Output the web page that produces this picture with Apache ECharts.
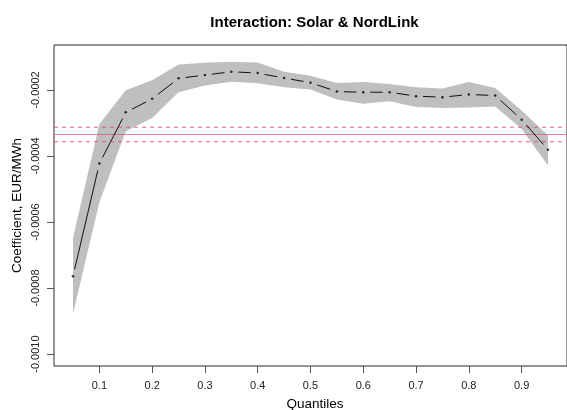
<!DOCTYPE html>
<html>
<head>
<meta charset="utf-8">
<script src="https://cdn.jsdelivr.net/npm/echarts@6/dist/echarts.min.js"></script>
<style>
  html, body { margin: 0; padding: 0; background: #fff; }
  #chart { width: 567px; height: 410px; }
</style>
</head>
<body>
<div id="chart"></div>
<script>
// Quantile-regression coefficient of the Solar x NordLink interaction
const taus = [0.05, 0.10, 0.15, 0.20, 0.25, 0.30, 0.35, 0.40, 0.45, 0.50,
              0.55, 0.60, 0.65, 0.70, 0.75, 0.80, 0.85, 0.90, 0.95];
const coef = [-0.000764, -0.000423, -0.000268, -0.000227, -0.000165, -0.000155, -0.000145,
              -0.000149, -0.000164, -0.000178, -0.000205, -0.000207, -0.000207, -0.000219,
              -0.000222, -0.000214, -0.000217, -0.000290, -0.000381];
// 90% confidence band
const upper = [-0.000648, -0.000303, -0.000201, -0.000171, -0.000123, -0.000118, -0.000115,
               -0.000117, -0.000145, -0.000157, -0.000179, -0.000176, -0.000182, -0.000192,
               -0.000196, -0.000176, -0.000194, -0.000262, -0.000338];
const lower = [-0.000878, -0.000540, -0.000325, -0.000285, -0.000207, -0.000187, -0.000175,
               -0.000180, -0.000192, -0.000199, -0.000229, -0.000242, -0.000234, -0.000252,
               -0.000255, -0.000253, -0.000250, -0.000318, -0.000429];
// OLS estimate and its interval
const olsEstimate = -0.000335;
const olsBounds = [-0.000357, -0.000313];

const xTicks = [0.1, 0.2, 0.3, 0.4, 0.5, 0.6, 0.7, 0.8, 0.9];
const yTicks = [-0.0010, -0.0008, -0.0006, -0.0004, -0.0002];

// axis limits: data range padded by 4% on each side
const xLim = [0.014, 0.986];
const yLim = [-0.001036, -0.000064];

const FONT = '"Liberation Sans", Arial, sans-serif';
const chart = echarts.init(document.getElementById('chart'), null, { renderer: 'canvas' });

const segments = [];
for (let i = 0; i < taus.length - 1; i++) {
  segments.push([taus[i], coef[i], taus[i + 1], coef[i + 1]]);
}
const pointGap = 7;
const OLS_RED = '#DF536B';

function hline(value, dashed) {
  return {
    type: 'line',
    data: [[xLim[0], value], [xLim[1], value]],
    showSymbol: false,
    silent: true,
    z: 3,
    lineStyle: { color: OLS_RED, width: 1, opacity: dashed ? 0.9 : 0.75, type: dashed ? [4, 4] : 'solid' }
  };
}

chart.setOption({
  animation: false,
  backgroundColor: '#fff',
  grid: {
    left: 54, top: 45, width: 521, height: 321,
    show: true, borderColor: '#2a2a2a', borderWidth: 1, backgroundColor: 'transparent'
  },
  xAxis: {
    type: 'value', min: xLim[0], max: xLim[1],
    axisLine: { show: false },
    splitLine: { show: false },
    axisTick: { show: true, length: 7, customValues: xTicks, lineStyle: { color: '#555' } },
    axisLabel: {
      customValues: xTicks, margin: 14,
      color: '#222', fontFamily: FONT, fontSize: 11,
      formatter: v => v.toFixed(1)
    }
  },
  yAxis: {
    type: 'value', min: yLim[0], max: yLim[1],
    axisLine: { show: false },
    splitLine: { show: false },
    axisTick: { show: true, length: 7, customValues: yTicks, lineStyle: { color: '#555' } },
    axisLabel: {
      customValues: yTicks, rotate: 90, margin: 13,
      color: '#222', fontFamily: FONT, fontSize: 11,
      formatter: v => v.toFixed(4)
    }
  },
  graphic: [
    { type: 'text', style: {
        text: 'Interaction: Solar & NordLink', x: 314.5, y: 23,
        align: 'center', verticalAlign: 'middle',
        font: 'bold 15px ' + FONT, fill: '#000' } },
    { type: 'text', style: {
        text: 'Quantiles', x: 315, y: 404,
        align: 'center', verticalAlign: 'middle',
        font: '13.5px ' + FONT, fill: '#000' } },
    { type: 'text', x: 17, y: 205.5, rotation: Math.PI / 2, style: {
        text: 'Coefficient, EUR/MWh', x: 0, y: 0,
        align: 'center', verticalAlign: 'middle',
        font: '13.5px ' + FONT, fill: '#000' } }
  ],
  series: [
    {
      // confidence band polygon
      type: 'custom',
      data: [[0]],
      silent: true,
      z: 1,
      renderItem: function (params, api) {
        const pts = [];
        for (let i = 0; i < taus.length; i++) pts.push(api.coord([taus[i], upper[i]]));
        for (let i = taus.length - 1; i >= 0; i--) pts.push(api.coord([taus[i], lower[i]]));
        return { type: 'polygon', shape: { points: pts }, style: { fill: '#BFBFBF' } };
      }
    },
    // OLS reference lines
    hline(olsEstimate, false),
    hline(olsBounds[0], true),
    hline(olsBounds[1], true),
    {
      // line segments broken around each point
      type: 'custom',
      data: segments,
      silent: true,
      z: 4,
      encode: { x: [0, 2], y: [1, 3] },
      renderItem: function (params, api) {
        const a = api.coord([api.value(0), api.value(1)]);
        const b = api.coord([api.value(2), api.value(3)]);
        const dx = b[0] - a[0], dy = b[1] - a[1];
        const len = Math.sqrt(dx * dx + dy * dy);
        if (len <= 2 * pointGap) return null;
        const ux = dx / len, uy = dy / len;
        return {
          type: 'line',
          shape: {
            x1: a[0] + ux * pointGap, y1: a[1] + uy * pointGap,
            x2: b[0] - ux * pointGap, y2: b[1] - uy * pointGap
          },
          style: { stroke: '#111', lineWidth: 1 }
        };
      }
    },
    {
      type: 'scatter',
      data: taus.map((t, i) => [t, coef[i]]),
      symbol: 'circle', symbolSize: 2.5,
      itemStyle: { color: '#000' },
      silent: true,
      z: 5
    }
  ]
});
</script>
</body>
</html>
